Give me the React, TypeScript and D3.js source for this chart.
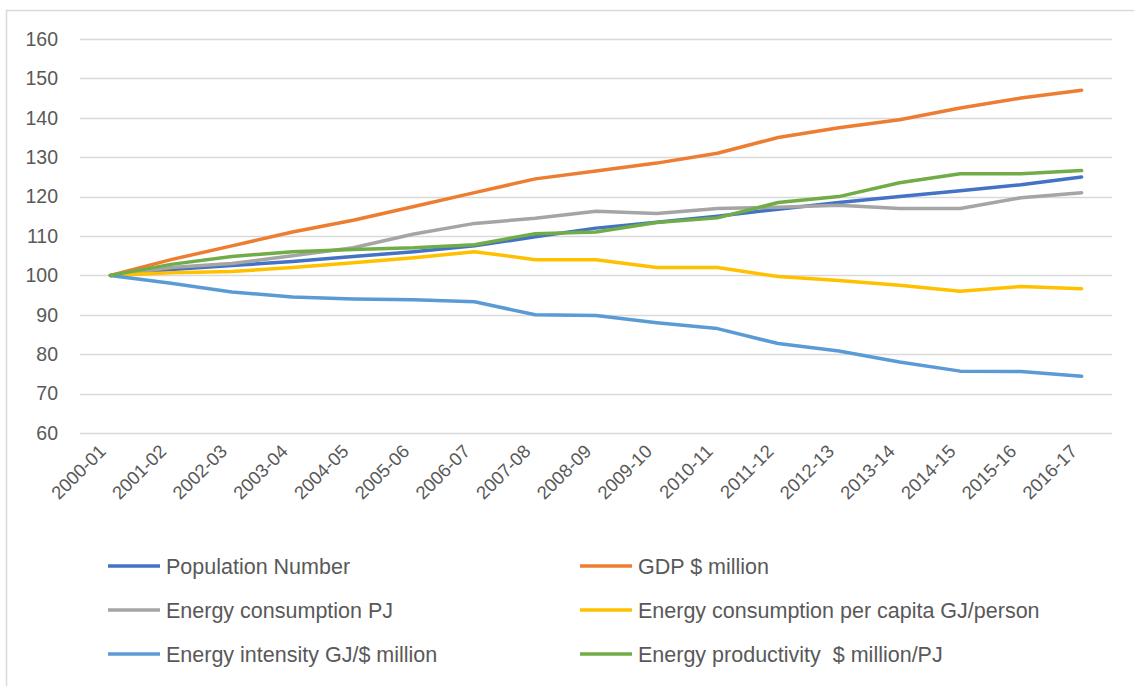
import { useEffect, useRef } from "react";
import * as d3 from "d3";

const periods = [
  "2000-01", "2001-02", "2002-03", "2003-04", "2004-05", "2005-06",
  "2006-07", "2007-08", "2008-09", "2009-10", "2010-11", "2011-12",
  "2012-13", "2013-14", "2014-15", "2015-16", "2016-17",
];

const populationNumber = [100, 101.5, 102.5, 103.5, 104.8, 106, 107.5, 109.8, 112, 113.5, 115, 116.8, 118.5, 120, 121.5, 123, 125];
const gdpMillion = [100, 104, 107.5, 111, 114, 117.5, 121, 124.5, 126.5, 128.5, 131, 135, 137.5, 139.5, 142.5, 145, 147];
const energyConsumption = [100, 102, 103, 105, 107, 110.5, 113.2, 114.5, 116.3, 115.7, 117, 117.3, 117.8, 117, 117, 119.7, 121];
const perCapita = [100, 100.7, 101, 102, 103.2, 104.5, 106, 104, 104, 102, 102, 99.7, 98.7, 97.5, 96, 97.2, 96.6];
const energyIntensity = [100, 98, 95.8, 94.5, 94, 93.8, 93.3, 90, 89.8, 88, 86.5, 82.7, 80.8, 78, 75.7, 75.6, 74.4];
const energyProductivity = [100, 102.8, 104.8, 106, 106.6, 107, 107.8, 110.6, 111, 113.4, 114.6, 118.5, 120, 123.5, 125.8, 125.8, 126.6];

const yTicks = [60, 70, 80, 90, 100, 110, 120, 130, 140, 150, 160];

// drawing order matches Excel (first series underneath)
const series = [
  { name: "Population Number", color: "#4472C4", values: populationNumber },
  { name: "GDP $ million", color: "#ED7D31", values: gdpMillion },
  { name: "Energy consumption PJ", color: "#A5A5A5", values: energyConsumption },
  { name: "Energy consumption per capita GJ/person", color: "#FFC000", values: perCapita },
  { name: "Energy intensity GJ/$ million", color: "#5B9BD5", values: energyIntensity },
  { name: "Energy productivity  $ million/PJ", color: "#70AD47", values: energyProductivity },
];

const WIDTH = 1134;
const HEIGHT = 686;
const PLOT = { left: 80, right: 1112, top: 39, bottom: 433 };
const FONT = "'Liberation Sans', Arial, sans-serif";
const TEXT = "#595959";

export default function App() {
  const svgRef = useRef<SVGSVGElement>(null);

  useEffect(() => {
    if (!svgRef.current) return;
    const svg = d3.select(svgRef.current);
    svg.selectAll("*").remove();

    svg
      .append("rect")
      .attr("x", 6.5)
      .attr("y", 10.5)
      .attr("width", WIDTH + 20)
      .attr("height", HEIGHT + 20)
      .attr("fill", "#fff")
      .attr("stroke", "#d9d9d9")
      .attr("stroke-width", 1.5);

    const x = d3
      .scalePoint<string>()
      .domain(periods)
      .range([PLOT.left, PLOT.right])
      .padding(0.5);

    const y = d3.scaleLinear().domain([60, 160]).range([PLOT.bottom, PLOT.top]);

    // gridlines
    svg
      .append("g")
      .selectAll("line")
      .data(yTicks)
      .join("line")
      .attr("x1", PLOT.left)
      .attr("x2", PLOT.right)
      .attr("y1", (d) => Math.round(y(d)) + 0.5)
      .attr("y2", (d) => Math.round(y(d)) + 0.5)
      .attr("stroke", "#d9d9d9")
      .attr("stroke-width", 1.5);

    // y labels
    svg
      .append("g")
      .selectAll("text")
      .data(yTicks)
      .join("text")
      .attr("x", 58)
      .attr("y", (d) => y(d))
      .attr("dy", "0.35em")
      .attr("text-anchor", "end")
      .attr("font-family", FONT)
      .attr("font-size", 19.5)
      .attr("fill", TEXT)
      .text((d) => d);

    // x labels
    svg
      .append("g")
      .selectAll("text")
      .data(periods)
      .join("text")
      .attr("transform", (d) => `translate(${(x(d) ?? 0) - 8},${448}) rotate(-45)`)
      .attr("dy", "0.35em")
      .attr("text-anchor", "end")
      .attr("font-family", FONT)
      .attr("font-size", 18.5)
      .attr("fill", TEXT)
      .text((d) => d);

    const line = d3
      .line<number>()
      .x((_, i) => x(periods[i]) ?? 0)
      .y((d) => y(d));

    svg
      .append("g")
      .selectAll("path")
      .data(series)
      .join("path")
      .attr("d", (s) => line(s.values))
      .attr("fill", "none")
      .attr("stroke", (s) => s.color)
      .attr("stroke-width", 3.5)
      .attr("stroke-linejoin", "round")
      .attr("stroke-linecap", "round");

    // legend, two columns
    const legend = svg.append("g");
    const cols = [108, 580];
    const rows = [566, 610, 654];
    series.forEach((s, i) => {
      const lx = cols[i % 2];
      const ly = rows[Math.floor(i / 2)];
      const item = legend.append("g").attr("transform", `translate(${lx},${ly})`);
      item
        .append("line")
        .attr("x1", 0)
        .attr("x2", 52)
        .attr("y1", 0)
        .attr("y2", 0)
        .attr("stroke", s.color)
        .attr("stroke-width", 3.5);
      item
        .append("text")
        .attr("x", 58)
        .attr("y", 0)
        .attr("dy", "0.35em")
        .attr("font-family", FONT)
        .attr("font-size", 21.5)
        .attr("fill", TEXT)
        .style("white-space", "pre")
        .text(s.name);
    });
  }, []);

  return (
    <div style={{ position: "absolute", left: 0, top: 0, background: "#fff" }}>
      <svg ref={svgRef} width={WIDTH} height={HEIGHT} style={{ display: "block" }} />
    </div>
  );
}
